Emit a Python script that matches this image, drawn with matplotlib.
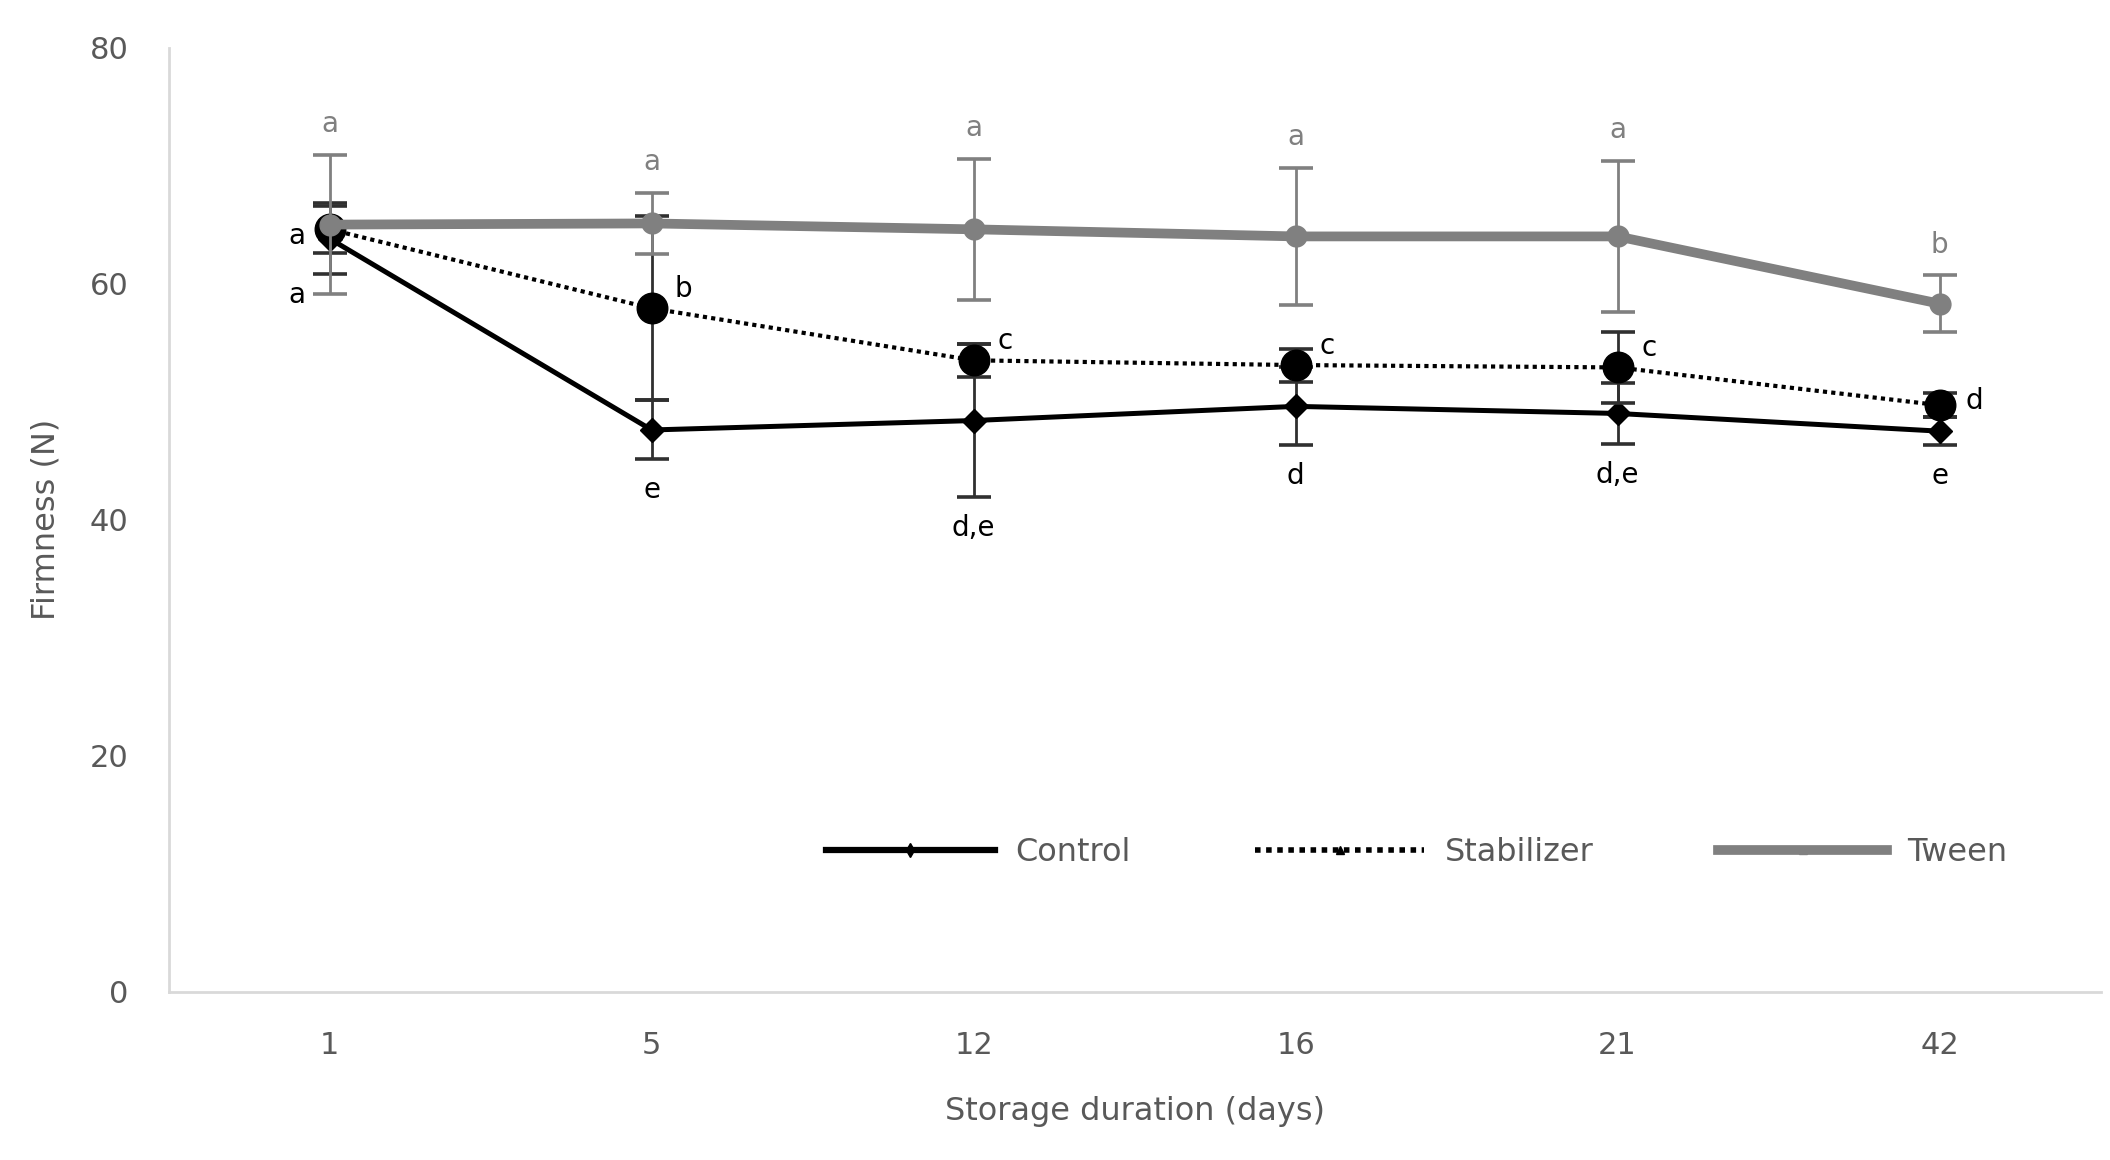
import matplotlib
matplotlib.use("Agg")
import matplotlib.pyplot as plt
from matplotlib.lines import Line2D
import numpy as np

days = ['1', '5', '12', '16', '21', '42']
control = [63.8, 47.6, 48.4, 49.6, 49.0, 47.5]
control_err = [3.0, 2.5, 6.5, 3.3, 2.6, 1.2]
stabilizer = [64.6, 57.9, 53.5, 53.1, 52.9, 49.7]
stabilizer_err = [2.0, 7.8, 1.4, 1.4, 3.0, 1.0]
tween = [65.0, 65.1, 64.6, 64.0, 64.0, 58.3]
tween_err = [5.9, 2.6, 6.0, 5.8, 6.4, 2.4]
control_letters = ['a', 'e', 'd,e', 'd', 'd,e', 'e']
stabilizer_letters = ['a', 'b', 'c', 'c', 'c', 'd']
tween_letters = ['a', 'a', 'a', 'a', 'a', 'b']
series_names = ['Control', 'Stabilizer', 'Tween']
yticks = [0, 20, 40, 60, 80]

TICK_FONT = ['DejaVu Sans']
LET_FONT = ['DejaVu Sans']
GRAY = '#808080'
TXT = '#595959'

fig = plt.figure(figsize=(21.1, 11.6), dpi=100)
ax = fig.add_axes([0.080, 0.145, 0.9155, 0.814])
x = np.arange(len(days))

ax.errorbar(x, control, yerr=control_err, color='black', lw=3.6, marker='D', ms=12,
            ecolor='#303030', elinewidth=2, capsize=12, capthick=2.6, zorder=3)
ax.errorbar(x, stabilizer, yerr=stabilizer_err, color='black', lw=3, ls=(0, (1, 1)), marker='o', ms=22,
            ecolor='#303030', elinewidth=2, capsize=12, capthick=2.6, zorder=4)
ax.errorbar(x, tween, yerr=tween_err, color=GRAY, lw=7, marker='o', ms=15,
            ecolor=GRAY, elinewidth=2, capsize=12, capthick=2.6, zorder=5)

# significance letters
for i in range(len(days)):
    ax.annotate(tween_letters[i], (x[i], tween[i] + tween_err[i]), xytext=(0, 22),
                textcoords='offset points', ha='center', va='center', color=GRAY,
                fontsize=20, family=LET_FONT)
    if i == 0:
        cx, cy = -24, -15
    else:
        cx, cy = 0, -22
    ax.annotate(control_letters[i], (x[i], control[i] - control_err[i]), xytext=(cx, cy),
                textcoords='offset points', ha='center', va='center', color='black',
                fontsize=20, family=LET_FONT)
    if i == 0:
        sx, sy = -24, -5
    elif i == len(days) - 1:
        sx, sy = 25, 3
    else:
        sx, sy = 23, 14
    ax.annotate(stabilizer_letters[i], (x[i], stabilizer[i]), xytext=(sx, sy),
                textcoords='offset points', ha='center', va='center', color='black',
                fontsize=20, family=LET_FONT)

ax.set_xlim(-0.5, len(days) - 0.5)
ax.set_ylim(0, 80)
ax.set_xticks(x)
ax.set_xticklabels(days)
ax.set_yticks(yticks)
for lab in ax.get_xticklabels() + ax.get_yticklabels():
    lab.set_family(TICK_FONT)
    lab.set_fontsize(22)
    lab.set_color(TXT)
ax.tick_params(axis='x', length=0, pad=28)
ax.tick_params(axis='y', length=0, pad=29)
for s in ['top', 'right']:
    ax.spines[s].set_visible(False)
for s in ['left', 'bottom']:
    ax.spines[s].set_color('#D9D9D9')
    ax.spines[s].set_linewidth(2)

ax.set_xlabel('Storage duration (days)', family=TICK_FONT, fontsize=23, color=TXT, labelpad=26)
ax.set_ylabel('Firmness (N)', family=TICK_FONT, fontsize=23, color=TXT, labelpad=20)

handles = [
    Line2D([], [], color='black', lw=4.5, marker='d', ms=7),
    Line2D([], [], color='black', lw=4, ls=(0, (1, 1)), marker='^', ms=6),
    Line2D([], [], color=GRAY, lw=7, marker='^', ms=6),
]
leg = ax.legend(handles, series_names, loc='center', bbox_to_anchor=(0.646, 0.147), ncol=3,
                frameon=False, handlelength=5.3, columnspacing=3.9, handletextpad=0.63,
                prop={'family': TICK_FONT, 'size': 23})
for t in leg.get_texts():
    t.set_color(TXT)

fig.savefig('out.png', dpi=100, facecolor='white')
